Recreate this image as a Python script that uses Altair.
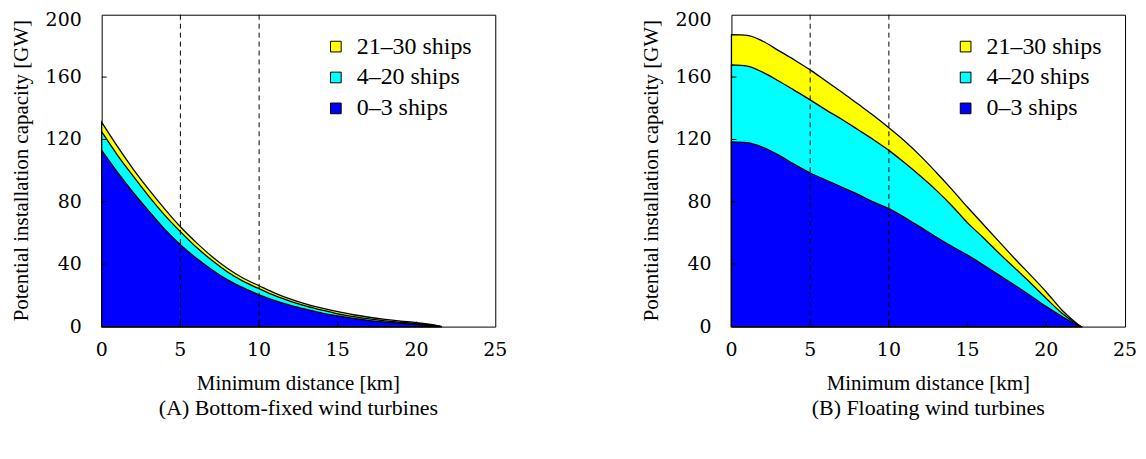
import altair as alt
import pandas as pd

# ---------------- data ----------------
series_names = ["21–30 ships", "4–20 ships", "0–3 ships"]
series_colors = ["#FFFF00", "#00FFFF", "#0000FF"]

# (A) Bottom-fixed: cumulative upper edges of each band [GW]
dist_a = [0, 1, 2, 3, 4, 5, 6, 7, 8, 9, 10, 11, 12, 13, 14, 15, 16, 17, 18, 19, 20, 21, 21.6]
a_0_3 = [113, 99, 86, 74, 62.5, 52.5, 44, 36.5, 30, 24.8, 20.4, 16.7, 13.6, 11, 8.7, 6.8, 5.2, 3.9, 2.9, 2.1, 1.4, 0.6, 0]
a_4_20 = [125, 110, 96.5, 83.5, 71.5, 60.9, 51, 42.5, 35, 29, 24.3, 19.8, 16.2, 13.1, 10.5, 8.2, 6.4, 4.9, 3.7, 2.8, 2.0, 0.9, 0]
a_21_30 = [131, 115.5, 101, 87.8, 75.5, 64, 54, 45, 37.3, 31, 26.2, 21.5, 17.6, 14.4, 11.8, 9.6, 7.6, 6.0, 4.6, 3.5, 2.6, 1.2, 0]

# (B) Floating: cumulative upper edges of each band [GW]
dist_b = [0, 1, 2, 3, 4, 5, 6, 7, 8, 9, 10, 11, 12, 13, 14, 15, 16, 17, 18, 19, 20, 21, 22, 22.2]
b_0_3 = [118.5, 118, 115, 110, 104, 98.5, 94, 89.5, 85, 80, 75.7, 70, 63.8, 57.5, 51.5, 45.8, 39.5, 33, 26.5, 19.8, 12.8, 6.5, 0.8, 0]
b_4_20 = [167.8, 167, 163, 157.5, 151.5, 145.4, 139, 133, 126.5, 120, 113, 105, 96.5, 87.5, 77.5, 66.5, 57, 47, 37.5, 28, 18, 8.5, 1.2, 0]
b_21_30 = [187.2, 186.8, 183, 177, 171, 164.6, 157.5, 150.5, 143, 135.5, 127.5, 119, 109.5, 99, 88, 76.5, 65.5, 54.5, 43.5, 33, 22.2, 10.5, 1.5, 0]

dashed_at = [5, 10]
x_ticks = [0, 5, 10, 15, 20, 25]
y_ticks = [0, 40, 80, 120, 160, 200]
inner_x_ticks = [5, 10, 15, 20]
inner_y_ticks = [40, 80, 120, 160]

x_title = "Minimum distance [km]"
y_title = "Potential installation capacity [GW]"
captions = ["(A) Bottom-fixed wind turbines", "(B) Floating wind turbines"]

FONT = "Liberation Serif"
TICK_FONT = "DejaVu Serif"
TITLE_FONT = "Times New Roman"
LEGEND_FONT = "serif"
W, H = 395, 313


def long_df(dist, tops):
    rows = []
    for name, vals in zip(series_names, tops):
        for d, v in zip(dist, vals):
            rows.append({"dist": d, "top": v, "series": name})
    return pd.DataFrame(rows)


color_scale = alt.Scale(domain=series_names, range=series_colors)


def panel(dist, tops, caption):
    df = long_df(dist, tops)
    xs = alt.Scale(domain=[0, 25], nice=False)
    ys = alt.Scale(domain=[0, 200], nice=False)
    layers = []
    for name in series_names:
        layers.append(
            alt.Chart(df).transform_filter(alt.datum.series == name)
            .mark_area(stroke="black", strokeWidth=1.3, interpolate="monotone", opacity=1)
            .encode(
                x=alt.X("dist:Q", scale=xs, axis=None),
                y=alt.Y("top:Q", scale=ys, axis=None),
                color=alt.Color("series:N", scale=color_scale, legend=None),
            )
        )

    rules = alt.Chart(pd.DataFrame({"d": dashed_at})).mark_rule(
        color="black", strokeWidth=1, strokeDash=[5, 4]
    ).encode(x=alt.X("d:Q", scale=xs, axis=None))

    yt = alt.Chart(pd.DataFrame({"v": inner_y_ticks})).mark_rule(
        color="black", strokeWidth=1
    ).encode(y=alt.Y("v:Q", scale=ys, axis=None), x=alt.value(0), x2=alt.value(5))

    xt = alt.Chart(pd.DataFrame({"v": inner_x_ticks})).mark_rule(
        color="black", strokeWidth=1
    ).encode(x=alt.X("v:Q", scale=xs, axis=None), y=alt.value(H), y2=alt.value(H - 5))

    # tick labels (through the scales); the top one sits a little lower, as in the reference
    ydf = pd.DataFrame({"v": y_ticks})
    ylab = alt.Chart(ydf).transform_filter(alt.datum.v < 200).mark_text(
        font=TICK_FONT, fontSize=19, align="right", baseline="middle", color="black"
    ).encode(y=alt.Y("v:Q", scale=ys, axis=None), x=alt.value(-20), text="v:Q")
    ylab_top = alt.Chart(ydf).transform_filter(alt.datum.v >= 200).mark_text(
        font=TICK_FONT, fontSize=19, align="right", baseline="middle", color="black", dy=5
    ).encode(y=alt.Y("v:Q", scale=ys, axis=None), x=alt.value(-20), text="v:Q")

    xlab = alt.Chart(pd.DataFrame({"v": x_ticks})).mark_text(
        font=TICK_FONT, fontSize=19, align="center", baseline="middle", color="black"
    ).encode(x=alt.X("v:Q", scale=xs, axis=None), y=alt.value(H + 23), text="v:Q")

    # axis titles and caption
    xtit = alt.Chart(pd.DataFrame({"t": [x_title]})).mark_text(
        font=TITLE_FONT, fontSize=21, align="center", baseline="middle", color="black"
    ).encode(x=alt.value(W / 2), y=alt.value(H + 58), text="t:N")

    ytit = alt.Chart(pd.DataFrame({"t": [y_title]})).mark_text(
        font=TITLE_FONT, fontSize=21, align="center", baseline="middle", angle=270, color="black"
    ).encode(x=alt.value(-80), y=alt.value(H / 2), text="t:N")

    cap = alt.Chart(pd.DataFrame({"t": [caption]})).mark_text(
        font=FONT, fontSize=22, align="center", baseline="middle", color="black"
    ).encode(x=alt.value(W / 2), y=alt.value(H + 82), text="t:N")

    # legend entries
    leg = []
    for i, (name, col) in enumerate(zip(series_names, series_colors)):
        row = pd.DataFrame({"t": [name]})
        leg.append(alt.Chart(row).mark_square(
            size=115, fill=col, stroke="black", strokeWidth=1, opacity=1
        ).encode(x=alt.value(235), y=alt.value(32 + 31 * i)))
        leg.append(alt.Chart(row).mark_text(
            font=LEGEND_FONT, fontSize=24, align="left", baseline="middle", color="black"
        ).encode(x=alt.value(256), y=alt.value(32 + 31 * i), text="t:N"))

    return alt.layer(*layers, rules, yt, xt, ylab, ylab_top, xlab, xtit, ytit, cap, *leg).properties(
        width=W, height=H
    )


left = panel(dist_a, [a_21_30, a_4_20, a_0_3], captions[0])
right = panel(dist_b, [b_21_30, b_4_20, b_0_3], captions[1])

chart = (
    alt.hconcat(left, right, spacing=132)
    .configure_view(stroke="black", strokeWidth=1)
    .properties(padding={"left": 2, "top": 1, "right": 0, "bottom": 0})
)

chart.save("out.html", embed_options={"renderer": "svg", "actions": False})
